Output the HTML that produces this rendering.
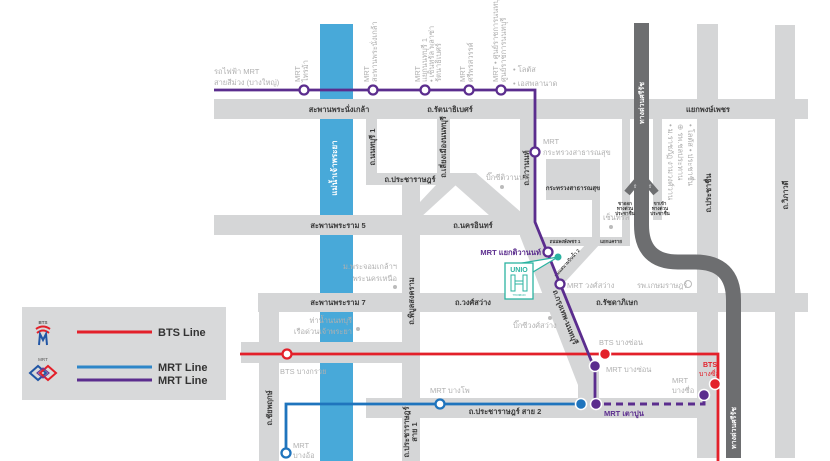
<!DOCTYPE html>
<html><head><meta charset="utf-8"><style>
html,body{margin:0;padding:0;background:#fff;}
svg{display:block;}
text{font-family:"Liberation Sans","DejaVu Sans",sans-serif;}
.rd{font-size:7.5px;font-weight:bold;fill:#3a3a3a;}
.st{font-size:7.5px;fill:#b0b0b0;}
.tn{font-size:4.5px;font-weight:bold;fill:#333;}
</style></head><body>
<svg width="830" height="461" viewBox="0 0 830 461" xmlns="http://www.w3.org/2000/svg">
<rect width="830" height="461" fill="#fff"/>
<rect x="320" y="24" width="33" height="437" fill="#48a9d9"/>
<g fill="#d5d6d7">
<rect x="214" y="99" width="594" height="20"/>
<rect x="697" y="24" width="21" height="434"/>
<rect x="775" y="25" width="20" height="433"/>
<rect x="366" y="119" width="11" height="66"/>
<rect x="437" y="119" width="13" height="54"/>
<rect x="366" y="173" width="110" height="12"/>
<rect x="402" y="185" width="18" height="276"/>
<polygon points="420,202 436,185 456,185 420,218"/>
<polygon points="455,173 476,173 522,213 522,216 490,216 455,185"/>
<rect x="214" y="215" width="320" height="20"/>
<polygon points="520,119 534,119 534,222 592,362 599,372 599,398 578,398 578,385 520,236"/>
<rect x="546" y="159" width="54" height="41"/>
<rect x="592" y="200" width="8" height="37"/>
<rect x="538" y="237" width="92" height="9"/>
<rect x="622" y="119" width="8" height="127"/>
<rect x="653" y="119" width="9" height="101"/>
<polygon points="586,244 600,244 566,281 552,281"/>
<rect x="258" y="293" width="550" height="19"/>
<rect x="259" y="293" width="20" height="168"/>
<rect x="241" y="342" width="179" height="21"/>
<rect x="366" y="398" width="331" height="20"/>
</g>
<path d="M641.5 23 V225 Q641.5 262 678 262 L695 262 Q733.5 262 733.5 300 V458" fill="none" stroke="#6d6e70" stroke-width="15"/>
<line x1="627" y1="193" x2="638" y2="180" stroke="#6d6e70" stroke-width="7"/>
<line x1="656" y1="193" x2="645" y2="180" stroke="#6d6e70" stroke-width="7"/>
<text x="633" y="188" font-size="5" fill="#fff">⇧</text>
<text x="648" y="188" font-size="5" fill="#fff">⇧</text>
<text transform="rotate(-90 644 103)" x="644" y="103" text-anchor="middle" font-size="7" font-weight="bold" fill="#fff">ทางด่วนศรีรัช</text>
<text transform="rotate(-90 736 428)" x="736" y="428" text-anchor="middle" font-size="7" font-weight="bold" fill="#fff">ทางด่วนศรีรัช</text>
<text x="337" y="168" transform="rotate(-90 337 168)" text-anchor="middle" font-size="8" font-weight="bold" fill="#fff">แม่น้ำเจ้าพระยา</text>

<text class="rd" x="339" y="112" text-anchor="middle">สะพานพระนั่งเกล้า</text>
<text class="rd" x="450" y="112" text-anchor="middle">ถ.รัตนาธิเบศร์</text>
<text class="rd" x="708" y="112" text-anchor="middle">แยกพงษ์เพชร</text>
<text class="rd" x="410" y="182" text-anchor="middle">ถ.ประชาราษฎร์</text>
<text class="rd" x="338" y="228" text-anchor="middle">สะพานพระราม 5</text>
<text class="rd" x="473" y="228" text-anchor="middle">ถ.นครอินทร์</text>
<text class="rd" x="338" y="305" text-anchor="middle">สะพานพระราม 7</text>
<text class="rd" x="473" y="305" text-anchor="middle">ถ.วงศ์สว่าง</text>
<text class="rd" x="617" y="305" text-anchor="middle">ถ.รัชดาภิเษก</text>
<text class="rd" x="505" y="414" text-anchor="middle">ถ.ประชาราษฎร์ สาย 2</text>
<text class="rd" transform="rotate(-90 375 147)" x="375" y="147" text-anchor="middle">ถ.นนทบุรี 1</text>
<text class="rd" transform="rotate(-90 446 147)" x="446" y="147" text-anchor="middle">ถ.เลี่ยงเมืองนนทบุรี</text>
<text class="rd" transform="rotate(-90 529 168)" x="529" y="168" text-anchor="middle">ถ.ติวานนท์</text>
<text class="rd" transform="rotate(-90 711 193)" x="711" y="193" text-anchor="middle">ถ.ประชาชื่น</text>
<text class="rd" transform="rotate(-90 788 195)" x="788" y="195" text-anchor="middle">ถ.วิภาวดี</text>
<text class="rd" transform="rotate(-90 414 301)" x="414" y="301" text-anchor="middle">ถ.พิบูลสงคราม</text>
<text class="rd" transform="rotate(-90 272 408)" x="272" y="408" text-anchor="middle">ถ.ชัยพฤกษ์</text>
<text class="rd" transform="rotate(-90 409 432)" x="409" y="432" text-anchor="middle">ถ.ประชาราษฎร์</text>
<text class="rd" transform="rotate(-90 417 432)" x="417" y="432" text-anchor="middle">สาย 1</text>
<text class="rd" transform="rotate(69 563 318)" x="563" y="318" text-anchor="middle">ถ.กรุงเทพ-นนทบุรี</text>
<text x="573" y="190" text-anchor="middle" font-size="6" font-weight="bold" fill="#333">กระทรวงสาธารณสุข</text>
<text class="tn" x="565" y="243" text-anchor="middle">ถนนพงษ์เพชร 1</text>
<text class="tn" x="611" y="243" text-anchor="middle">แยกแคราย</text>
<text class="tn" transform="rotate(-48 568 264)" x="568" y="264" text-anchor="middle">ถนนสนามบินน้ำ 2</text>
<text class="tn" x="625" y="205" text-anchor="middle">ขาออก</text>
<text class="tn" x="625" y="210" text-anchor="middle">ทางด่วน</text>
<text class="tn" x="625" y="215" text-anchor="middle">ประชาชื่น</text>
<text class="tn" x="660" y="205" text-anchor="middle">ขาเข้า</text>
<text class="tn" x="660" y="210" text-anchor="middle">ทางด่วน</text>
<text class="tn" x="660" y="215" text-anchor="middle">ประชาชื่น</text>

<text class="st" x="214" y="74">รถไฟฟ้า MRT</text>
<text class="st" x="214" y="85">สายสีม่วง (บางใหญ่)</text>
<text transform="rotate(-90 300 82)" x="300" y="82" class="st">MRT</text>
<text transform="rotate(-90 308 82)" x="308" y="82" class="st">ไทรม้า</text>
<text transform="rotate(-90 369 82)" x="369" y="82" class="st">MRT</text>
<text transform="rotate(-90 377 82)" x="377" y="82" class="st">สะพานพระนั่งเกล้า</text>
<text transform="rotate(-90 420 82)" x="420" y="82" class="st">MRT</text>
<text transform="rotate(-90 427 82)" x="427" y="82" class="st">แยกนนทบุรี 1</text>
<text transform="rotate(-90 434 82)" x="434" y="82" class="st">• เซ็นทรัล พลาซ่า</text>
<text transform="rotate(-90 441 82)" x="441" y="82" class="st">รัตนาธิเบศร์</text>
<text transform="rotate(-90 465 82)" x="465" y="82" class="st">MRT</text>
<text transform="rotate(-90 473 82)" x="473" y="82" class="st">ศรีพรสวรรค์</text>
<text transform="rotate(-90 498 82)" x="498" y="82" class="st">MRT • ศูนย์ราชการนนทบุรี</text>
<text transform="rotate(-90 506 82)" x="506" y="82" class="st">ศูนย์ราชการนนทบุรี</text>
<text transform="rotate(90 668 124)" x="668" y="124" class="st" font-size="6.5">• ม.ราชภัฏ งามวงศ์วาน</text>
<text transform="rotate(90 678 124)" x="678" y="124" class="st" font-size="6.5">⊕ รพ.ชลประทาน</text>
<text transform="rotate(90 688 124)" x="688" y="124" class="st" font-size="6.5">• โลตัส • ประชาชื่น</text>
<text class="st" x="513" y="72">• โลตัส</text>
<text class="st" x="513" y="86">• เอสพลานาด</text>
<text class="st" x="543" y="144">MRT</text>
<text class="st" x="543" y="155">กระทรวงสาธารณสุข</text>
<text class="st" x="486" y="180" font-size="6.5">บิ๊กซีติวานนท์</text>
<circle cx="502" cy="187" r="2" fill="#bbb"/>
<text class="st" x="603" y="220" font-size="5">เซ็นทรัล</text>
<circle cx="611" cy="227" r="2" fill="#bbb"/>
<text class="st" x="567" y="288">MRT วงศ์สว่าง</text>
<text class="st" x="637" y="288">รพ.เกษมราษฎร์</text>
<circle cx="688" cy="284" r="3.5" fill="none" stroke="#bbb" stroke-width="1"/>
<text class="st" x="513" y="328">บิ๊กซีวงศ์สว่าง</text>
<circle cx="550" cy="318" r="2" fill="#bbb"/>
<text class="st" x="397" y="269" text-anchor="end">ม.พระจอมเกล้าฯ</text>
<text class="st" x="397" y="281" text-anchor="end">พระนครเหนือ</text>
<circle cx="395" cy="287" r="2" fill="#bbb"/>
<text class="st" x="352" y="323" text-anchor="end">ท่าน้ำนนทบุรี</text>
<text class="st" x="352" y="334" text-anchor="end">เรือด่วนเจ้าพระยา</text>
<circle cx="358" cy="329" r="2" fill="#bbb"/>
<text class="st" x="280" y="374">BTS บางกรวย</text>
<text class="st" x="430" y="393">MRT บางโพ</text>
<text class="st" x="293" y="448">MRT</text>
<text class="st" x="293" y="458">บางอ้อ</text>
<text class="st" x="599" y="345">BTS บางซ่อน</text>
<text class="st" x="606" y="372">MRT บางซ่อน</text>
<text class="st" x="672" y="383">MRT</text>
<text class="st" x="672" y="393">บางซื่อ</text>
<text x="703" y="367" font-size="7" font-weight="bold" fill="#e3202a">BTS</text>
<text x="699" y="376" font-size="7" fill="#e3202a">บางซื่อ</text>
<text x="604" y="416" font-size="7.5" font-weight="bold" fill="#5b2d8e">MRT เตาปูน</text>
<text x="541" y="255" text-anchor="end" font-size="7.5" font-weight="bold" fill="#5b2d8e">MRT แยกติวานนท์</text>

<path d="M240 354 H718 V461" fill="none" stroke="#e3202a" stroke-width="2.8"/>
<path d="M286 453 V404 H581" fill="none" stroke="#1f74bd" stroke-width="2.8"/>
<path d="M214 90 H535 V222 L591 360 L595 368 V404" fill="none" stroke="#5b2d8e" stroke-width="2.8"/>
<path d="M604 404 H704 V396" fill="none" stroke="#5b2d8e" stroke-width="3" stroke-dasharray="7 5"/>

<g fill="#fff" stroke="#5b2d8e" stroke-width="2.3">
<circle cx="304" cy="90" r="4.5"/><circle cx="373" cy="90" r="4.5"/><circle cx="425" cy="90" r="4.5"/>
<circle cx="469" cy="90" r="4.5"/><circle cx="501" cy="90" r="4.5"/><circle cx="535" cy="152" r="4.5"/>
<circle cx="548" cy="252" r="4.5"/><circle cx="560" cy="284" r="4.5"/>
</g>
<g fill="#5b2d8e" stroke="#fff" stroke-width="1.5">
<circle cx="595" cy="366" r="5.5"/><circle cx="596" cy="404" r="5.5"/><circle cx="704" cy="395" r="5.5"/>
</g>
<circle cx="287" cy="354" r="4.5" fill="#fff" stroke="#e3202a" stroke-width="2.3"/>
<circle cx="605" cy="354" r="5.5" fill="#e3202a" stroke="#fff" stroke-width="1.5"/>
<circle cx="715" cy="384" r="5.5" fill="#e3202a" stroke="#fff" stroke-width="1.5"/>
<circle cx="440" cy="404" r="4.5" fill="#fff" stroke="#1f74bd" stroke-width="2.3"/>
<circle cx="286" cy="453" r="4.5" fill="#fff" stroke="#1f74bd" stroke-width="2.3"/>
<circle cx="581" cy="404" r="5.5" fill="#1f74bd" stroke="#fff" stroke-width="1.5"/>

<polygon points="522,263 533,272 558,257" fill="#fff" stroke="#2bb3a1" stroke-width="1.2"/>
<circle cx="558" cy="257" r="3.5" fill="#2bb3a1"/>
<rect x="505" y="263" width="28" height="36" fill="#fff" stroke="#2bb3a1" stroke-width="1.3"/>
<text x="519" y="272" text-anchor="middle" font-size="7" font-weight="bold" fill="#2bb3a1">UNIO</text>
<g fill="none" stroke="#2bb3a1" stroke-width="1">
<rect x="511" y="275" width="4" height="16"/><rect x="523" y="275" width="4" height="16"/>
<rect x="515" y="281" width="8" height="3"/>
</g>
<text x="519" y="296" text-anchor="middle" font-size="2.5" fill="#2bb3a1">THONBURI</text>

<rect x="22" y="307" width="204" height="93" fill="#d8d9da"/>
<line x1="77" y1="332" x2="152" y2="332" stroke="#e3202a" stroke-width="3"/>
<line x1="77" y1="367" x2="152" y2="367" stroke="#2e86c8" stroke-width="3"/>
<line x1="77" y1="380" x2="152" y2="380" stroke="#5b2d8e" stroke-width="3"/>
<text x="158" y="336" font-size="11" font-weight="bold" fill="#333">BTS Line</text>
<text x="158" y="371" font-size="11" font-weight="bold" fill="#333">MRT Line</text>
<text x="158" y="384" font-size="11" font-weight="bold" fill="#333">MRT Line</text>
<text x="43" y="324" text-anchor="middle" font-size="4.5" font-weight="bold" fill="#555">BTS</text>
<path d="M36 329 Q43 324 50 329" fill="none" stroke="#e3202a" stroke-width="2"/>
<path d="M37 333 Q43 328 49 333" fill="none" stroke="#e3202a" stroke-width="2"/>
<path d="M39 345 L40 334 L43 340 L46 334 L47 345" fill="none" stroke="#2156a5" stroke-width="2"/>
<text x="43" y="361" text-anchor="middle" font-size="4.5" fill="#555">MRT</text>
<polygon points="30,373 38,366 46,373 38,380" fill="none" stroke="#2156a5" stroke-width="2"/>
<polygon points="40,373 48,366 56,373 48,380" fill="none" stroke="#e3202a" stroke-width="2"/>
<polygon points="37,373 43,368 49,373 43,378" fill="none" stroke="#6a3a96" stroke-width="1.2"/>
</svg>
</body></html>
